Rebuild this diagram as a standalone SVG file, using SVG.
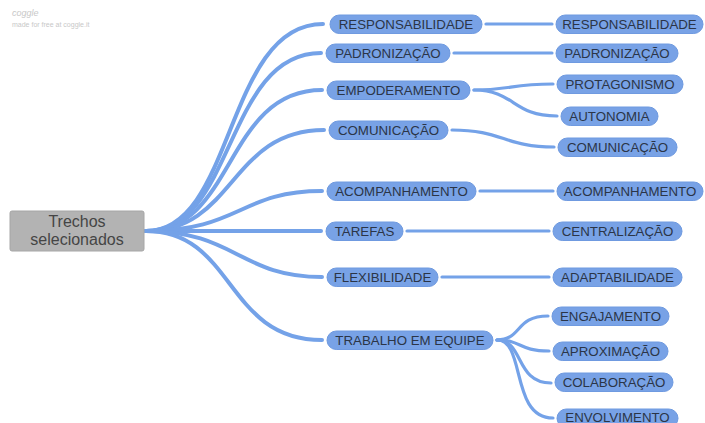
<svg xmlns="http://www.w3.org/2000/svg" width="705" height="423" viewBox="0 0 705 423">
<style>
.bg{fill:#ffffff}
.root{fill:#b3b3b3;stroke:#a6a6a6;stroke-width:1}
.rt{font-family:"Liberation Sans",Arial,sans-serif;font-size:16px;fill:#454545;text-anchor:middle}
.pill{fill:#78a2e6;stroke:#6f9ae0;stroke-width:1}
.pt{font-family:"Liberation Sans",Arial,sans-serif;font-size:13.3px;fill:#2b3547;text-anchor:middle}
.c{fill:none;stroke:#74a2e8;stroke-linecap:round}
.c1{stroke-width:4}
.c2{stroke-width:3.2}
.wm{font-family:"Liberation Sans",Arial,sans-serif;fill:#c8c8c8}
</style>
<rect class="bg" x="0" y="0" width="705" height="423"/>
<g id="watermark">
<text class="wm" x="12" y="16" font-size="9" font-style="italic">coggle</text>
<text class="wm" x="12" y="27" font-size="7">made for free at coggle.it</text>
</g>
<g id="connectors">
<path class="c c1" d="M146,231 C235,231 225,24 323,24"/>
<path class="c c1" d="M146,231 C235,231 225,53 321,53"/>
<path class="c c1" d="M146,231 C235,231 225,90 322,90"/>
<path class="c c1" d="M146,231 C235,231 230,130 324,130"/>
<path class="c c1" d="M146,231 C240,231 240,191 322,191"/>
<path class="c c1" d="M146,231 L321,231"/>
<path class="c c1" d="M146,231 C235,231 240,277 322,277"/>
<path class="c c1" d="M146,231 C235,231 225,340 322,340"/>
<path class="c c2" d="M486,24 L552,24"/>
<path class="c c2" d="M454,53 L552,53"/>
<path class="c c2" d="M474,90 C512,90 510,84 553,84"/>
<path class="c c2" d="M474,90 C515,90 512,116 557,116"/>
<path class="c c2" d="M452,130 C502,130 505,147 554,147"/>
<path class="c c2" d="M480,191 L553,191"/>
<path class="c c2" d="M407,231 L549,231"/>
<path class="c c2" d="M442,277 L549,277"/>
<path class="c c2" d="M497,340 C522,340 515,316 548,316"/>
<path class="c c2" d="M497,340 C522,340 518,351 549,351"/>
<path class="c c2" d="M497,340 C524,340 515,383 551,383"/>
<path class="c c2" d="M497,340 C526,340 510,418 553,418"/>
</g>
<g id="root">
<rect class="root" x="10" y="211" width="134" height="40" rx="2"/>
<text class="rt" x="77" y="227">Trechos</text>
<text class="rt" x="77" y="245">selecionados</text>
</g>
<g id="n-responsabilidade">
<rect class="pill" x="330" y="15" width="152" height="18.5" rx="9.25"/>
<text class="pt" x="406" y="29">RESPONSABILIDADE</text>
</g>
<g id="n-padronizacao">
<rect class="pill" x="326" y="44" width="124" height="18.5" rx="9.25"/>
<text class="pt" x="388" y="58">PADRONIZAÇÃO</text>
</g>
<g id="n-empoderamento">
<rect class="pill" x="327" y="81" width="143" height="18.5" rx="9.25"/>
<text class="pt" x="398.5" y="95">EMPODERAMENTO</text>
</g>
<g id="n-comunicacao">
<rect class="pill" x="329" y="121" width="119" height="18.5" rx="9.25"/>
<text class="pt" x="388.5" y="135">COMUNICAÇÃO</text>
</g>
<g id="n-acompanhamento">
<rect class="pill" x="327" y="182" width="149" height="18.5" rx="9.25"/>
<text class="pt" x="401.5" y="196">ACOMPANHAMENTO</text>
</g>
<g id="n-tarefas">
<rect class="pill" x="326" y="222" width="77" height="18.5" rx="9.25"/>
<text class="pt" x="364.5" y="236">TAREFAS</text>
</g>
<g id="n-flexibilidade">
<rect class="pill" x="327" y="268" width="111" height="18.5" rx="9.25"/>
<text class="pt" x="382.5" y="282">FLEXIBILIDADE</text>
</g>
<g id="n-trabalho">
<rect class="pill" x="327" y="331" width="166" height="18.5" rx="9.25"/>
<text class="pt" x="410" y="345">TRABALHO EM EQUIPE</text>
</g>
<g id="n-responsabilidade2">
<rect class="pill" x="556" y="15" width="147" height="18.5" rx="9.25"/>
<text class="pt" x="629.5" y="29">RESPONSABILIDADE</text>
</g>
<g id="n-padronizacao2">
<rect class="pill" x="556" y="44" width="122" height="18.5" rx="9.25"/>
<text class="pt" x="617" y="58">PADRONIZAÇÃO</text>
</g>
<g id="n-protagonismo">
<rect class="pill" x="557" y="75" width="126" height="18.5" rx="9.25"/>
<text class="pt" x="620" y="89">PROTAGONISMO</text>
</g>
<g id="n-autonomia">
<rect class="pill" x="561" y="107" width="97" height="18.5" rx="9.25"/>
<text class="pt" x="609.5" y="121">AUTONOMIA</text>
</g>
<g id="n-comunicacao2">
<rect class="pill" x="558" y="138" width="119" height="18.5" rx="9.25"/>
<text class="pt" x="617.5" y="152">COMUNICAÇÃO</text>
</g>
<g id="n-acompanhamento2">
<rect class="pill" x="557" y="182" width="146" height="18.5" rx="9.25"/>
<text class="pt" x="630" y="196">ACOMPANHAMENTO</text>
</g>
<g id="n-centralizacao">
<rect class="pill" x="553" y="222" width="129" height="18.5" rx="9.25"/>
<text class="pt" x="617.5" y="236">CENTRALIZAÇÃO</text>
</g>
<g id="n-adaptabilidade">
<rect class="pill" x="553" y="268" width="129" height="18.5" rx="9.25"/>
<text class="pt" x="617.5" y="282">ADAPTABILIDADE</text>
</g>
<g id="n-engajamento">
<rect class="pill" x="552" y="307" width="117" height="18.5" rx="9.25"/>
<text class="pt" x="610.5" y="321">ENGAJAMENTO</text>
</g>
<g id="n-aproximacao">
<rect class="pill" x="553" y="342" width="115" height="18.5" rx="9.25"/>
<text class="pt" x="610.5" y="356">APROXIMAÇÃO</text>
</g>
<g id="n-colaboracao">
<rect class="pill" x="555" y="373" width="118" height="18.5" rx="9.25"/>
<text class="pt" x="614" y="387">COLABORAÇÃO</text>
</g>
<g id="n-envolvimento">
<rect class="pill" x="557" y="409" width="121" height="18.5" rx="9.25"/>
<text class="pt" x="617.5" y="422">ENVOLVIMENTO</text>
</g>
</svg>
